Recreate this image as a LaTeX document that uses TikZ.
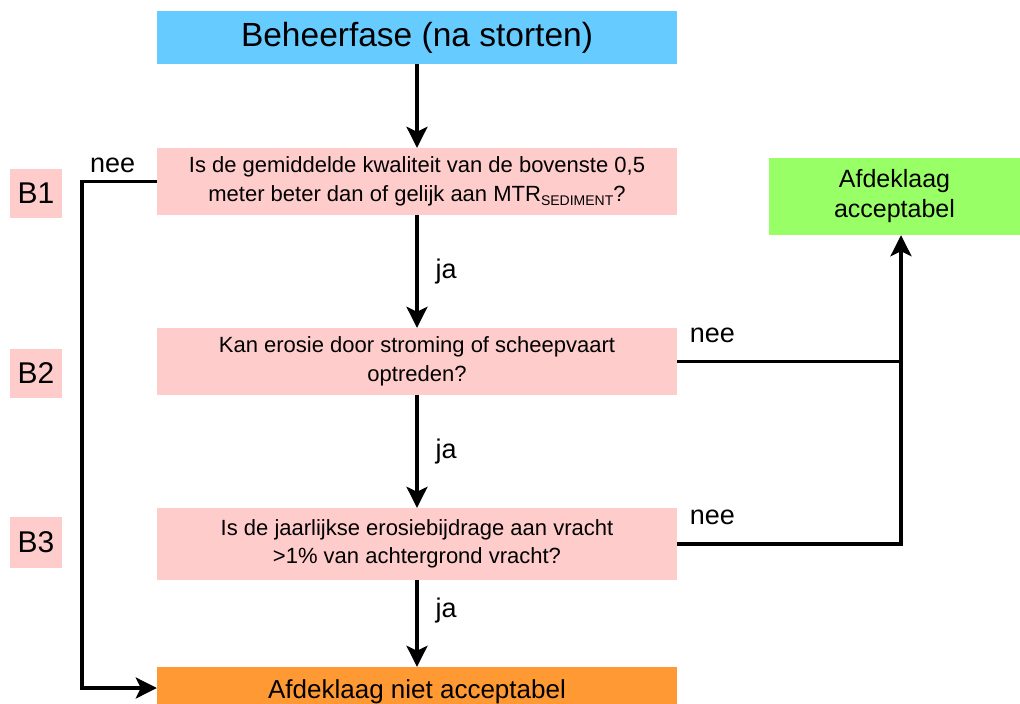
\documentclass[tikz,border=0pt]{standalone}
\usepackage{fontspec}
\setmainfont{Liberation Sans}
\usetikzlibrary{arrows.meta}
\definecolor{titleblue}{HTML}{66CCFF}
\definecolor{qpink}{HTML}{FFCCCC}
\definecolor{okgreen}{HTML}{99FF66}
\definecolor{noorange}{HTML}{FF9933}
\begin{document}
\begin{tikzpicture}[x=1pt,y=-1pt,
  conn/.style={line width=3.4pt},
  arr/.style={conn,-{Stealth[length=21pt,width=21pt,inset=5pt]}},
  titlebox/.style={fill=titleblue,minimum width=520pt,inner sep=0pt,font=\fontsize{33.5}{38}\selectfont},
  qbox/.style={fill=qpink,minimum width=520pt,inner sep=0pt,align=center,font=\fontsize{22}{28.5}\selectfont},
  endbox/.style={fill=noorange,minimum width=520pt,inner sep=0pt,font=\fontsize{26}{30}\selectfont},
  okbox/.style={fill=okgreen,minimum width=251pt,inner sep=0pt,align=center,font=\fontsize{25}{30}\selectfont},
  lblbox/.style={fill=qpink,minimum width=52pt,inner sep=0pt,font=\fontsize{30}{34}\selectfont},
  lab/.style={inner sep=0pt,font=\fontsize{27}{30}\selectfont}
]
\useasboundingbox (0,0) rectangle (1020,704);

\node[titlebox,minimum height=53pt] (title) at (417,37.5) {\raisebox{-2pt}{Beheerfase (na storten)}};
\node[qbox,minimum height=67pt] (b1) at (417,181.5) {Is de gemiddelde kwaliteit van de bovenste 0,5\\meter beter dan of gelijk aan MTR\raisebox{-4pt}{\fontsize{14}{14}\selectfont SEDIMENT}?};
\node[qbox,minimum height=67pt] (b2) at (417,361.5) {Kan erosie door stroming of scheepvaart\\optreden?};
\node[qbox,minimum height=72pt] (b3) at (417,544) {Is de jaarlijkse erosiebijdrage aan vracht\\>1\% van achtergrond vracht?};
\node[endbox,minimum height=50pt] (end) at (417,692) {Afdeklaag niet acceptabel};
\node[okbox,minimum height=77pt] (ok) at (894.5,196.5) {Afdeklaag\\acceptabel};

\node[lblbox,minimum height=49pt] (l1) at (36,193.5) {B1};
\node[lblbox,minimum height=49pt] (l2) at (36,373.5) {B2};
\node[lblbox,minimum height=51pt] (l3) at (36,542.5) {B3};

\coordinate (rj) at (901,361.5);

\draw[arr] (title) -- (b1);
\draw[arr] (b1) -- node[lab,midway,anchor=west,xshift=17pt] {ja} (b2);
\draw[arr] (b2) -- node[lab,midway,anchor=west,xshift=17pt] {ja} (b3);
\draw[arr] (b3) -- node[lab,pos=0.345,anchor=west,xshift=17pt] {ja} (end);

\draw[conn] (b2.east) -- node[lab,at start,anchor=base west,xshift=11pt,yshift=19pt] {nee} (rj);
\draw[arr] (b3.east) -- node[lab,at start,anchor=base west,xshift=11pt,yshift=20pt] {nee} (b3.east -| rj) -- (rj |- ok.south);

\draw[arr] (b1.west) -- node[lab,at start,anchor=base east,xshift=-20pt,yshift=9pt] {nee} ++(-75,0) |- ([yshift=4pt]end.west);
\end{tikzpicture}
\end{document}
